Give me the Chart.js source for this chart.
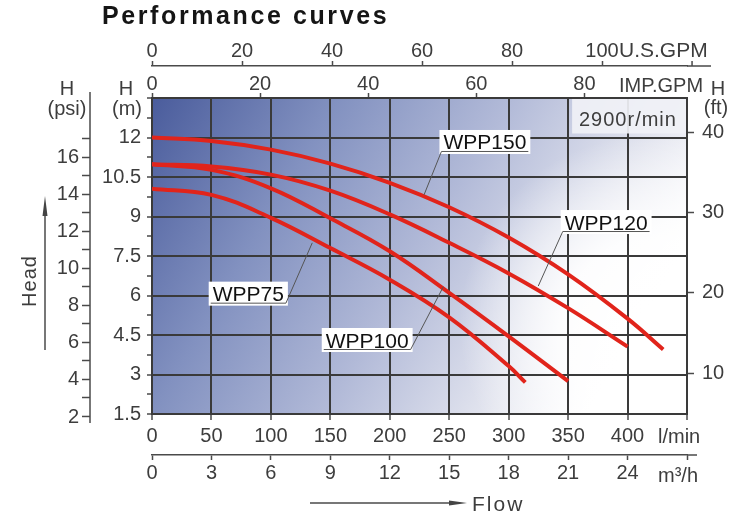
<!DOCTYPE html>
<html>
<head>
<meta charset="utf-8">
<script src="https://cdn.jsdelivr.net/npm/chart.js@4.4.1/dist/chart.umd.min.js"></script>
<style>
    html, body { margin: 0; padding: 0; background: #fff; }
    #perfChart { display: block; }
</style>
</head>
<body>
<canvas id="perfChart" width="750" height="515"></canvas>
<script>
// pump curves, flow in l/min and head in m
var flowWPP150 = [0, 50, 100, 150, 200, 250, 300, 350, 400, 430];
var headWPP150 = [12.0, 11.87, 11.54, 11.01, 10.28, 9.35, 8.2, 6.8, 5.12, 3.95];
var flowWPP120 = [0, 50, 100, 150, 200, 250, 300, 350, 400];
var headWPP120 = [10.98, 10.9, 10.59, 9.98, 9.08, 8.0, 6.84, 5.52, 4.06];
var flowWPP100 = [0, 50, 100, 150, 200, 250, 300, 350];
var headWPP100 = [10.98, 10.77, 10.07, 8.93, 7.68, 6.1, 4.45, 2.75];
var flowWPP75 = [0, 50, 100, 150, 200, 250, 300, 314];
var headWPP75 = [10.05, 9.82, 8.95, 7.8, 6.6, 5.17, 3.32, 2.7];
var models = ["WPP150", "WPP120", "WPP100", "WPP75"];

// axis ticks
var lminTicks = [0, 50, 100, 150, 200, 250, 300, 350, 400, 450];
var m3hTicks = [0, 3, 6, 9, 12, 15, 18, 21, 24, 27];
var impTicks = [0, 20, 40, 60, 80];
var usTicks = [0, 20, 40, 60, 80, 100, 120];
var headTicks = [1.5, 3, 4.5, 6, 7.5, 9, 10.5, 12, 13.5];
var psiTicks = [2, 4, 6, 8, 10, 12, 14, 16];
var ftTicks = [10, 20, 30, 40];

var FLOW_MAX = 450;          // l/min
var HEAD_MIN = 1.5, HEAD_MAX = 13.5;
var M_PER_PSI = 0.70307, M_PER_FT = 0.3048;
var L_PER_IMP = 4.54609, L_PER_US = 3.78541;

var FONT = "'Liberation Sans', Arial, Helvetica, sans-serif";
var INK = "#3d3d3d";
var GRID = "#3a3a3a";
var RED = "#e1241b";

function pairs(fl, hd) {
    return fl.map(function (q, i) { return { x: q, y: hd[i] }; });
}

function setTicks(list) {
    return function (scale) {
        scale.ticks = list.filter(function (v) {
            return v >= scale.min - 1e-9 && v <= scale.max + 1e-9;
        }).map(function (v) { return { value: v }; });
    };
}

// head (m) axis has a minor tick half way between labels
var headAll = [];
headTicks.forEach(function (v, i) {
    headAll.push(v);
    if (i < headTicks.length - 1) headAll.push(v + 0.75);
});
var psiAll = [];
for (var p = psiTicks[0]; p <= 17; p++) psiAll.push(p);

// label boxes and leader lines, in data units (l/min, m)
var tagFlow = [280, 382, 181, 81];
var tagHead = [11.83, 8.79, 4.31, 6.07];
var tagSide = ["left", "left", "right", "right"];
var leadFlow = [228.8, 324.9, 245, 134.8];
var leadHead = [9.82, 6.36, 6.33, 8.0];

var tickFont = { family: FONT, size: 20 };

var decor = {
    id: "decor",
    beforeDraw: function (chart) {
        var a = chart.chartArea, ctx = chart.ctx;
        var w = a.right - a.left, h = a.bottom - a.top;
        ctx.save();
        var g = ctx.createLinearGradient(a.left, a.top, a.left + w * 0.86, a.top + h * 0.86);
        g.addColorStop(0, "#4a5c9c");
        g.addColorStop(0.3, "#8291c0");
        g.addColorStop(0.58, "#b2bad8");
        g.addColorStop(0.84, "#e3e5ef");
        g.addColorStop(1, "#ffffff");
        ctx.fillStyle = g;
        ctx.fillRect(a.left, a.top, w, h);
        var gx = a.left + w * 0.93, gy = a.top + h * 0.72;
        var r = ctx.createRadialGradient(gx, gy, 0, gx, gy, 190);
        r.addColorStop(0, "rgba(255,255,255,1)");
        r.addColorStop(0.45, "rgba(255,255,255,0.9)");
        r.addColorStop(1, "rgba(255,255,255,0)");
        ctx.fillStyle = r;
        ctx.fillRect(a.left, a.top, w, h);
        ctx.restore();
    },
    afterDraw: function (chart) {
        var ctx = chart.ctx, s = chart.scales, a = chart.chartArea;
        ctx.save();

        // title
        ctx.fillStyle = "#151515";
        ctx.font = "bold 25px " + FONT;
        ctx.letterSpacing = "2.6px";
        ctx.textAlign = "left";
        ctx.textBaseline = "alphabetic";
        ctx.fillText("Performance curves", 102, 24);
        ctx.letterSpacing = "0px";

        // extra axis bits the scales cannot draw outside the plot
        ctx.strokeStyle = "#4a4a4a";
        ctx.lineWidth = 1.5;
        var px = s.yPsi.right;
        ctx.beginPath();
        ctx.moveTo(px, a.top - 6);
        ctx.lineTo(px, a.bottom + 9);
        ctx.stroke();
        ctx.font = "20px " + FONT;
        ctx.fillStyle = INK;
        ctx.textAlign = "right";
        ctx.textBaseline = "middle";
        psiTicks.forEach(function (v) {
            if (v < s.yPsi.min) {
                var yy = s.yPsi.getPixelForValue(v);
                ctx.beginPath();
                ctx.moveTo(px - 8, yy);
                ctx.lineTo(px, yy);
                ctx.stroke();
                ctx.fillText(String(v), px - 11, yy + 1);
            }
        });
        var uy = s.xUS.bottom;
        ctx.beginPath();
        ctx.moveTo(s.xUS.right, uy);
        ctx.lineTo(s.xUS.right + 24, uy);
        var u120 = s.xUS.getPixelForValue(usTicks[usTicks.length - 1]);
        ctx.moveTo(u120, uy);
        ctx.lineTo(u120, uy - 5);
        ctx.stroke();
        ctx.beginPath();
        ctx.moveTo(s.x2.right, s.x2.top);
        ctx.lineTo(s.x2.right + 10, s.x2.top);
        ctx.stroke();

        // speed box in the top right corner of the plot
        var bx = s.x.getPixelForValue(350) + 4;
        var by = s.y.getPixelForValue(12) - 4;
        ctx.fillStyle = "rgba(240,241,246,0.92)";
        ctx.fillRect(bx, a.top + 1, a.right - bx - 1, by - a.top - 1);

        // unit labels
        ctx.fillStyle = INK;
        ctx.textBaseline = "alphabetic";
        ctx.textAlign = "left";
        ctx.font = "21px " + FONT;
        ctx.fillText("U.S.GPM", 619, 57);
        ctx.font = "20px " + FONT;
        ctx.fillText("IMP.GPM", 619, 92);
        ctx.fillText("l/min", 658, 443);
        ctx.fillText("m\u00b3/h", 658, 482);
        ctx.textAlign = "center";
        ctx.fillText("H", 67, 95);
        ctx.fillText("(psi)", 67, 115);
        ctx.fillText("H", 126, 95);
        ctx.fillText("(m)", 127, 115);
        ctx.fillText("H", 718, 95);
        ctx.fillText("(ft)", 716, 114);
        ctx.textAlign = "left";
        ctx.letterSpacing = "1px";
        ctx.fillText("2900r/min", 579, 126);

        // Flow arrow
        ctx.font = "21px " + FONT;
        ctx.letterSpacing = "2px";
        ctx.fillText("Flow", 472, 511);
        ctx.letterSpacing = "0px";
        ctx.beginPath();
        ctx.moveTo(310, 503);
        ctx.lineTo(452, 503);
        ctx.stroke();
        ctx.fillStyle = "#444";
        ctx.beginPath();
        ctx.moveTo(467, 503);
        ctx.lineTo(449, 500.5);
        ctx.lineTo(449, 505.5);
        ctx.closePath();
        ctx.fill();

        // Head arrow
        ctx.beginPath();
        ctx.moveTo(45, 215);
        ctx.lineTo(45, 350);
        ctx.stroke();
        ctx.beginPath();
        ctx.moveTo(45, 196);
        ctx.lineTo(42.5, 216);
        ctx.lineTo(47.5, 216);
        ctx.closePath();
        ctx.fill();
        ctx.save();
        ctx.translate(30, 281);
        ctx.rotate(-Math.PI / 2);
        ctx.fillStyle = INK;
        ctx.textAlign = "center";
        ctx.textBaseline = "middle";
        ctx.font = "20px " + FONT;
        ctx.letterSpacing = "1px";
        ctx.fillText("Head", 0, 0);
        ctx.restore();

        // model tags with leader lines
        ctx.font = "21px " + FONT;
        ctx.textAlign = "center";
        ctx.textBaseline = "alphabetic";
        models.forEach(function (name, i) {
            var cx = s.x.getPixelForValue(tagFlow[i]);
            var cy = s.y.getPixelForValue(tagHead[i]);
            var w = ctx.measureText(name).width + 8, h = 24;
            var l = cx - w / 2, r = cx + w / 2;
            ctx.fillStyle = "#ffffff";
            ctx.fillRect(l, cy - h / 2, w, h);
            ctx.fillStyle = "#111";
            ctx.fillText(name, cx, cy + 7.5);
            var uy2 = cy + 9.5;
            ctx.strokeStyle = "#555";
            ctx.lineWidth = 1;
            ctx.beginPath();
            ctx.moveTo(l + 2, uy2);
            ctx.lineTo(r - 2, uy2);
            var sx = tagSide[i] === "left" ? l + 2 : r - 2;
            ctx.moveTo(sx, uy2);
            ctx.lineTo(s.x.getPixelForValue(leadFlow[i]), s.y.getPixelForValue(leadHead[i]));
            ctx.stroke();
        });
        ctx.restore();
    }
};

var dsList = [
    pairs(flowWPP150, headWPP150),
    pairs(flowWPP120, headWPP120),
    pairs(flowWPP100, headWPP100),
    pairs(flowWPP75, headWPP75)
].map(function (pts, i) {
    return {
        label: models[i],
        data: pts,
        showLine: true,
        borderColor: RED,
        backgroundColor: RED,
        borderWidth: 4,
        pointRadius: 0,
        fill: false,
        tension: 0.4
    };
});

function outerAxis(extra) {
    var base = {
        type: "linear",
        grid: { drawOnChartArea: false, color: "#4a4a4a", tickColor: "#4a4a4a", tickWidth: 1.5, tickLength: 5 },
        border: { color: "#4a4a4a", width: 1.5 },
        ticks: { font: tickFont, color: INK, autoSkip: false, maxRotation: 0 }
    };
    for (var k in extra) {
        if (typeof extra[k] === "object" && base[k] && typeof base[k] === "object") {
            base[k] = Object.assign({}, base[k], extra[k]);
        } else {
            base[k] = extra[k];
        }
    }
    return base;
}

var chartDiv = document.getElementById("perfChart");
var myChart = new Chart(chartDiv, {
    type: "scatter",
    data: { datasets: dsList },
    plugins: [decor],
    options: {
        responsive: false,
        animation: false,
        layout: { padding: { top: 30, bottom: 25, left: 0, right: 0 } },
        plugins: {
            legend: { display: false },
            tooltip: { enabled: false },
            title: { display: false }
        },
        scales: {
            x: {
                type: "linear", position: "bottom", min: 0, max: FLOW_MAX, weight: 0,
                afterBuildTicks: setTicks(lminTicks),
                afterFit: function (sc) { sc.height = 41; },
                ticks: {
                    font: tickFont, color: INK, padding: 4, autoSkip: false, maxRotation: 0,
                    callback: function (v) { return v === FLOW_MAX ? "" : String(v); }
                },
                grid: { color: GRID, lineWidth: 2, tickColor: "#4a4a4a", tickWidth: 1.5, tickLength: 6 },
                border: { color: GRID, width: 2 }
            },
            x2: outerAxis({
                position: "bottom", weight: 1, min: 0, max: FLOW_MAX * 60 / 1000,
                afterBuildTicks: setTicks(m3hTicks),
                afterFit: function (sc) { sc.height = 35; },
                ticks: { padding: 1, callback: function (v) { return v === 27 ? "" : String(v); } }
            }),
            xImp: outerAxis({
                position: "top", weight: 0, min: 0, max: FLOW_MAX / L_PER_IMP,
                afterBuildTicks: setTicks(impTicks),
                afterFit: function (sc) { sc.height = 32; },
                ticks: { padding: -3 },
                border: { display: false }
            }),
            xUS: outerAxis({
                position: "top", weight: 1, min: 0, max: FLOW_MAX / L_PER_US,
                afterBuildTicks: setTicks(usTicks),
                afterFit: function (sc) { sc.height = 36; },
                ticks: { padding: -2 }
            }),
            y: {
                type: "linear", position: "left", min: HEAD_MIN, max: HEAD_MAX, weight: 0,
                afterBuildTicks: setTicks(headAll),
                afterFit: function (sc) { sc.width = 62; },
                ticks: {
                    font: tickFont, color: INK, padding: 6, autoSkip: false,
                    callback: function (v) {
                        return (headTicks.indexOf(v) >= 0 && v < HEAD_MAX) ? String(v) : "";
                    }
                },
                grid: {
                    lineWidth: 2, tickColor: "#4a4a4a", tickWidth: 1.5, tickLength: 5,
                    color: function (c) {
                        return (c.tick && headTicks.indexOf(c.tick.value) >= 0) ? GRID : "rgba(0,0,0,0)";
                    }
                },
                border: { color: GRID, width: 2 }
            },
            yPsi: outerAxis({
                position: "left", weight: 1, min: HEAD_MIN / M_PER_PSI, max: HEAD_MAX / M_PER_PSI,
                afterBuildTicks: setTicks(psiAll),
                afterFit: function (sc) { sc.width = 90; },
                ticks: { padding: 3, callback: function (v) { return psiTicks.indexOf(v) >= 0 ? String(v) : ""; } },
                grid: { tickLength: 8 },
                border: { display: false }
            }),
            yFt: outerAxis({
                position: "right", weight: 0, min: HEAD_MIN / M_PER_FT, max: HEAD_MAX / M_PER_FT,
                afterBuildTicks: setTicks(ftTicks),
                afterFit: function (sc) { sc.width = 63; },
                ticks: { padding: 8 },
                grid: { tickLength: 7 },
                border: { color: GRID, width: 2 }
            })
        }
    }
});
</script>
</body>
</html>
